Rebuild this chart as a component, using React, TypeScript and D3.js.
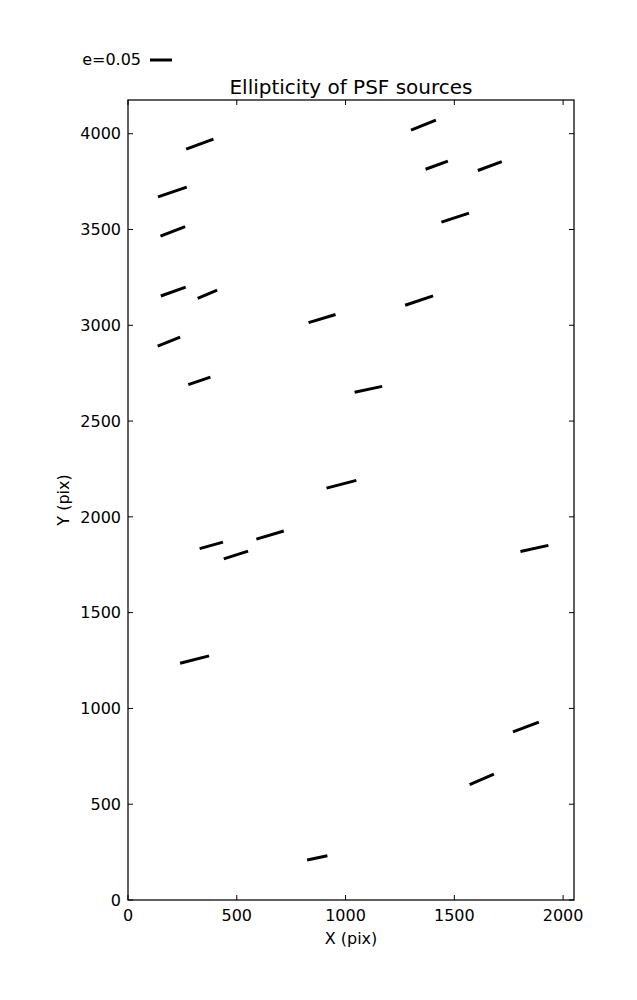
import React from "react";
import * as d3 from "d3";

// Source centres (pix), ellipticity and position angle (deg, CCW from +X)
const srcX = [330, 1358, 1419, 1663, 204, 206, 1504, 208, 365, 1338, 892, 188, 328, 1105, 981, 653, 383, 496, 1868, 306, 1829, 1626, 870];
const srcY = [3946, 4045, 3836, 3831, 3696, 3490, 3562, 3176, 3162, 3129, 3035, 2915, 2710, 2666, 2170, 1905, 1851, 1801, 1835, 1255, 903, 630, 220];
const srcE = [0.066, 0.061, 0.054, 0.058, 0.069, 0.060, 0.066, 0.060, 0.048, 0.067, 0.064, 0.055, 0.053, 0.064, 0.070, 0.065, 0.055, 0.058, 0.065, 0.068, 0.063, 0.060, 0.047];
const srcAngle = [20.2, 22.2, 20.1, 20.3, 18.8, 21.0, 18.2, 19.6, 22.5, 18.6, 16.9, 22.0, 18.7, 11.9, 14.6, 16.5, 15.6, 17.7, 12.6, 14.5, 20.8, 23.2, 11.6];

const xTicks = [0, 500, 1000, 1500, 2000];
const yTicks = [0, 500, 1000, 1500, 2000, 2500, 3000, 3500, 4000];
const xDomain = [0, 2050];
const yDomain = [0, 4176];
const refE = 0.05;
const refLabel = "e=0.05";
const title = "Ellipticity of PSF sources";

const W = 637, H = 1000;
const L = 128, R = 574, T = 100, B = 900;
const FONT = "DejaVu Sans";
const pxPerE = 22 / refE;

export default function App() {
  const x = d3.scaleLinear().domain(xDomain).range([L, R]);
  const y = d3.scaleLinear().domain(yDomain).range([B, T]);
  const tl = 5;
  return (
    <svg width={W} height={H} style={{ position: "absolute", left: 0, top: 0, background: "#fff" }} fontFamily={FONT}>
      <rect x={0} y={0} width={W} height={H} fill="#fff" />
      {srcX.map((sx, i) => {
        const cx = x(sx), cy = y(srcY[i]);
        const half = (srcE[i] * pxPerE) / 2;
        const a = (srcAngle[i] * Math.PI) / 180;
        const dx = half * Math.cos(a), dy = half * Math.sin(a);
        return <line key={i} x1={cx - dx} y1={cy + dy} x2={cx + dx} y2={cy - dy} stroke="#000" strokeWidth={3} />;
      })}
      <rect x={L} y={T} width={R - L} height={B - T} fill="none" stroke="#000" strokeWidth={1.25} />
      {xTicks.map((t) => (
        <g key={"x" + t}>
          <line x1={x(t)} x2={x(t)} y1={B} y2={B - tl} stroke="#000" strokeWidth={1} />
          <line x1={x(t)} x2={x(t)} y1={T} y2={T + tl} stroke="#000" strokeWidth={1} />
          <text x={x(t)} y={921} fontSize={16} textAnchor="middle">{t}</text>
        </g>
      ))}
      {yTicks.map((t) => (
        <g key={"y" + t}>
          <line x1={L} x2={L + tl} y1={y(t)} y2={y(t)} stroke="#000" strokeWidth={1} />
          <line x1={R} x2={R - tl} y1={y(t)} y2={y(t)} stroke="#000" strokeWidth={1} />
          <text x={121} y={y(t)} dy="0.36em" fontSize={16} textAnchor="end">{t}</text>
        </g>
      ))}
      <text x={(L + R) / 2} y={944} fontSize={16} textAnchor="middle">X (pix)</text>
      <text transform={`translate(69,${(T + B) / 2}) rotate(-90)`} fontSize={16} textAnchor="middle">Y (pix)</text>
      <text x={(L + R) / 2} y={94} fontSize={20} textAnchor="middle">{title}</text>
      <text x={141} y={65} fontSize={16} textAnchor="end">{refLabel}</text>
      <line x1={150} x2={150 + refE * pxPerE} y1={60} y2={60} stroke="#000" strokeWidth={3} />
    </svg>
  );
}
